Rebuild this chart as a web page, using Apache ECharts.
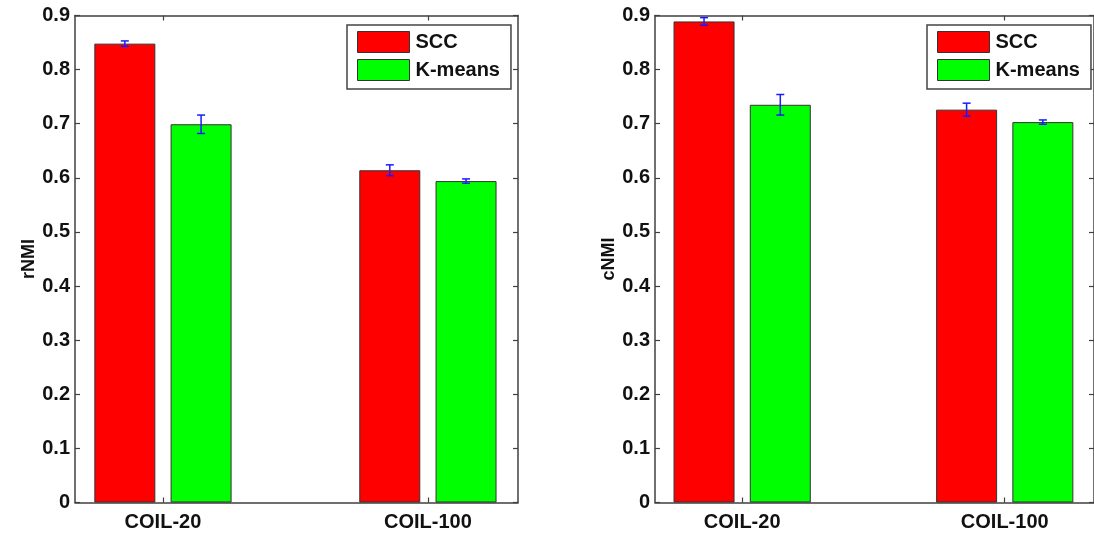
<!DOCTYPE html>
<html>
<head>
<meta charset="utf-8">
<script src="https://cdn.jsdelivr.net/npm/echarts@6/dist/echarts.min.js"></script>
<style>
html,body{margin:0;padding:0;background:#fff;}
#chart{width:1094px;height:533px;}
</style>
</head>
<body>
<div id="chart"></div>
<script>
// ---- data ----
const categories = ['COIL-20', 'COIL-100'];
const seriesNames = ['SCC', 'K-means'];
const rnmiSCC = [0.848, 0.614];
const rnmiSCCErr = [0.005, 0.010];
const rnmiKM = [0.699, 0.594];
const rnmiKMErr = [0.017, 0.004];
const cnmiSCC = [0.889, 0.726];
const cnmiSCCErr = [0.007, 0.012];
const cnmiKM = [0.735, 0.703];
const cnmiKMErr = [0.019, 0.004];
const yTicks = [0, 0.1, 0.2, 0.3, 0.4, 0.5, 0.6, 0.7, 0.8, 0.9];
const yNames = ['rNMI', 'cNMI'];

// ---- styling ----
const FONT = '"Liberation Sans", Arial, sans-serif';
const AXIS_COLOR = '#404040';
const BAR_W = 61;
const BAR_GAP = 0.25;
const OFF = (BAR_W + BAR_W * BAR_GAP) / 2;
const xPos = categories.map((c, i) => i + 1);

const chart = echarts.init(document.getElementById('chart'));

function pts(vals) { return vals.map((v, i) => [xPos[i], v]); }
function errPts(vals, errs) { return vals.map((v, i) => [xPos[i], v, errs[i]]); }

function errSeries(idx, vals, errs, off) {
  return {
    type: 'custom', xAxisIndex: idx * 2, yAxisIndex: idx * 2, z: 10,
    silent: true, clip: false,
    data: errPts(vals, errs),
    renderItem: function (params, api) {
      const x = api.value(0), v = api.value(1), e = api.value(2);
      const top = api.coord([x, v + e]);
      const bot = api.coord([x, v - e]);
      const cx = top[0] + off;
      const cap = 4;
      const st = { stroke: '#1a1aff', lineWidth: 1.5 };
      return {
        type: 'group',
        children: [
          { type: 'line', shape: { x1: cx, y1: top[1], x2: cx, y2: bot[1] }, style: st },
          { type: 'line', shape: { x1: cx - cap, y1: top[1], x2: cx + cap, y2: top[1] }, style: st },
          { type: 'line', shape: { x1: cx - cap, y1: bot[1], x2: cx + cap, y2: bot[1] }, style: st }
        ]
      };
    }
  };
}

const grids = [
  { left: 75, top: 15.5, width: 443, height: 487 },
  { left: 655, top: 15.5, width: 445, height: 487 }
];

const xAxes = [], yAxes = [];
grids.forEach((g, i) => {
  const xa = {
    type: 'value', gridIndex: i, min: 0.668, max: 2.34,
    axisLine: { show: true, onZero: false, lineStyle: { color: AXIS_COLOR, width: 1.5 } },
    splitLine: { show: false }
  };
  xAxes.push(Object.assign({}, xa, {
    position: 'bottom',
    axisTick: { show: true, inside: true, length: 5, customValues: xPos, lineStyle: { color: AXIS_COLOR, width: 1.2 } },
    axisLabel: {
      customValues: xPos, margin: 10,
      formatter: v => categories[Math.round(v) - 1] || '',
      color: '#111', fontFamily: FONT, fontWeight: 'bold', fontSize: 20
    }
  }));
  xAxes.push(Object.assign({}, xa, {
    position: 'top',
    axisTick: { show: true, inside: true, length: 5, customValues: xPos, lineStyle: { color: AXIS_COLOR, width: 1.2 } },
    axisLabel: { show: false }
  }));
  const ya = {
    type: 'value', gridIndex: i, min: 0, max: 0.9, interval: 0.1,
    axisLine: { show: true, lineStyle: { color: AXIS_COLOR, width: 1.5 } },
    axisTick: { show: true, inside: true, length: 5, lineStyle: { color: AXIS_COLOR, width: 1.2 } },
    splitLine: { show: false }
  };
  yAxes.push(Object.assign({}, ya, {
    position: 'left',
    name: yNames[i], nameLocation: 'middle', nameGap: 33, nameRotate: 90,
    nameTextStyle: { color: '#111', fontFamily: FONT, fontWeight: 'bold', fontSize: 18 },
    axisLabel: {
      margin: 5, color: '#111', fontFamily: FONT, fontWeight: 'bold', fontSize: 20,
      formatter: v => { const t = yTicks.find(tk => Math.abs(tk - v) < 1e-6); return t === undefined ? '' : String(t); }
    }
  }));
  yAxes.push(Object.assign({}, ya, { position: 'right', axisLabel: { show: false } }));
});

function barSeries(idx, name, vals, color) {
  return {
    type: 'bar', name: name, xAxisIndex: idx * 2, yAxisIndex: idx * 2,
    data: pts(vals), barWidth: BAR_W, barGap: (BAR_GAP * 100) + '%',
    itemStyle: { color: color, borderColor: '#333', borderWidth: 1 },
    silent: true
  };
}

const legendCommon = {
  orient: 'vertical', top: 25, itemWidth: 52, itemHeight: 21, itemGap: 6,
  padding: [6, 11, 8, 10], borderColor: '#444', borderWidth: 1.5,
  backgroundColor: '#fff', icon: 'rect', data: seriesNames, selectedMode: false,
  textStyle: { color: '#111', fontFamily: FONT, fontWeight: 'bold', fontSize: 20, padding: [0, 0, 0, 1] },
  itemStyle: { borderColor: '#333', borderWidth: 1 }
};

chart.setOption({
  animation: false,
  grid: grids,
  xAxis: xAxes,
  yAxis: yAxes,
  legend: [
    Object.assign({}, legendCommon, { left: 347 }),
    Object.assign({}, legendCommon, { left: 927 })
  ],
  series: [
    barSeries(0, 'SCC', rnmiSCC, '#ff0000'),
    barSeries(0, 'K-means', rnmiKM, '#00ff00'),
    errSeries(0, rnmiSCC, rnmiSCCErr, -OFF),
    errSeries(0, rnmiKM, rnmiKMErr, OFF),
    barSeries(1, 'SCC', cnmiSCC, '#ff0000'),
    barSeries(1, 'K-means', cnmiKM, '#00ff00'),
    errSeries(1, cnmiSCC, cnmiSCCErr, -OFF),
    errSeries(1, cnmiKM, cnmiKMErr, OFF)
  ]
});
</script>
</body>
</html>
